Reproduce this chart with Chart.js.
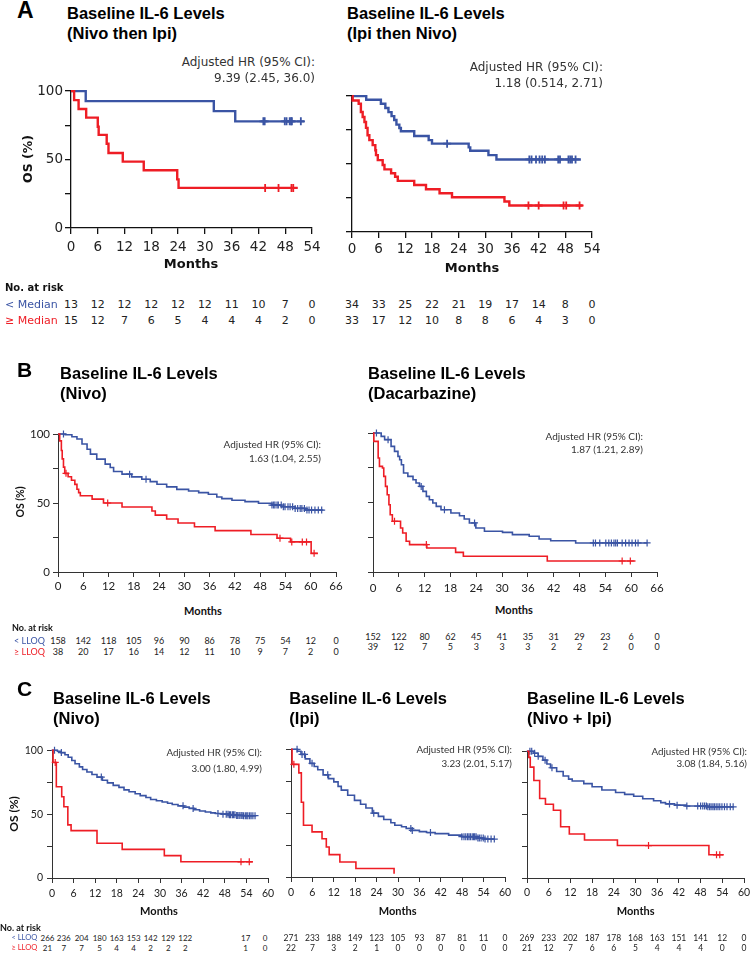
<!DOCTYPE html>
<html><head><meta charset="utf-8">
<script src="https://cdn.jsdelivr.net/npm/chart.js"></script>
<style>
html,body{margin:0;padding:0;width:750px;height:953px;overflow:hidden;background:#fff;position:relative}
.t{position:absolute;white-space:nowrap;}
canvas{position:absolute}
</style></head><body>
<script>
// ---------- tick labels ----------
const monthsA = [0,6,12,18,24,30,36,42,48,54];
const monthsB = [0,6,12,18,24,30,36,42,48,54,60,66];
const monthsC = [0,6,12,18,24,30,36,42,48,54,60];
const yTickVals = [0,25,50,75,100];
const yTickLbls = ['0','','50','','100'];

// ---------- Panel A left (Nivo then Ipi) ----------
const aL_blue_t = [0,3.3,32.0,36.8,52.3];
const aL_blue_s = [100,92.7,85.4,77.9,77.9];
const aL_blue_c = [43.1,43.4,47.9,48.3,49.0,49.3,49.5,51.5];
const aL_red_t = [0,0.7,1.7,3.4,6.0,6.2,8.0,8.4,11.6,16.3,23.8,24.1,50.8];
const aL_red_s = [100,93.4,86.9,80.6,74.0,68.0,61.5,54.8,48.5,42.2,35.5,29.3,29.3];
const aL_red_c = [43.5,46.5,49.4,49.8];
const aL_riskLow = [13,12,12,12,12,12,11,10,7,0];
const aL_riskHigh = [15,12,7,6,5,4,4,4,2,0];

// ---------- Panel A right (Ipi then Nivo) ----------
const aR_blue_t = [0,3.2,6.5,7.5,8.2,8.9,9.5,10.0,10.65,11.0,14.0,17.25,18.0,26.25,26.6,30.7,32.5,51.5];
const aR_blue_s = [100,97.3,94.4,91.2,88.2,85.3,82.4,79.0,76.5,74.1,70.6,67.6,65.0,62.3,59.8,56.6,53.4,53.4];
const aR_blue_c = [21.4,39.9,40.4,41.4,42.2,42.8,43.4,46.4,46.8,48.7,49.1,49.5,50.3];
const aR_red_t = [0,0.15,1.5,2.0,2.4,2.8,3.15,3.5,3.9,4.65,5.25,5.4,5.8,6.9,7.3,8.8,9.7,10.3,14.0,16.65,19.7,22.5,34.3,35.4,51.9];
const aR_red_s = [100,96.8,94.4,88.3,84.6,80.9,76.6,71.2,67.6,63.9,60.2,56.6,52.9,49.3,46.1,43.2,40.7,37.6,34.6,31.5,28.5,25.6,22.4,19.5,19.5];
const aR_red_c = [39.7,42.0,47.6,48.2,51.2];
const aR_riskLow = [34,33,25,22,21,19,17,14,8,0];
const aR_riskHigh = [33,17,12,10,8,8,6,4,3,0];

// ---------- Panel B left (Nivo) ----------
const bL_blue_t = [0,1.7,3.3,4.5,5.7,6.9,7.7,9.2,11.2,12.4,13.2,15.2,17.5,19.9,21.9,23.5,25.8,28.2,31.0,33.4,35.7,37.7,38.9,41.3,44.4,47.6,50.8,53.1,56.3,58.7,63.0];
const bL_blue_s = [100,99.5,98.0,96.4,92.7,89.0,85.4,81.8,78.2,75.7,72.8,70.9,68.9,67.2,65.5,63.6,61.7,59.9,58.7,57.5,56.3,54.4,53.2,52.0,51.0,49.8,48.5,47.3,46.1,44.9,44.9];
const bL_blue_c = [1.3,17.0,20.9,50.8,51.2,51.5,52.0,52.3,53.0,53.5,53.9,54.6,55.1,55.7,56.3,56.9,57.5,57.9,58.5,59.1,59.6,60.2,61.0,61.8,62.6];
const bL_red_t = [0,0.4,0.8,1.0,1.3,1.6,2.4,3.2,4.0,4.5,4.9,5.3,8.1,10.8,15.2,22.3,23.1,25.8,28.5,32.4,37.3,45.8,52.0,55.2,60.1,61.7];
const bL_red_s = [100,95,88,82,76,71.5,69,66.5,63.5,60,57.5,55.2,52.8,50,47.1,44.2,41.2,38.4,35.5,32.8,30.0,27.2,24.5,21.8,13.5,13.5];
const bL_red_c = [1.9,11.8,52.7,55.5,58.0,59.0,60.8];
const bL_riskLow = [158,142,118,105,96,90,86,78,75,54,12,0];
const bL_riskHigh = [38,20,17,16,14,12,11,10,9,7,2,0];

// ---------- Panel B right (Dacarbazine) ----------
const bR_blue_t = [0,1.9,2.7,4.2,5.0,5.8,6.2,6.6,7.1,8.1,9.3,10.0,10.8,11.6,12.4,13.1,13.9,14.7,15.8,18.1,20.1,21.2,22.4,23.9,25.9,30.1,32.4,36.3,38.6,41.3,47.1,63.7];
const bR_blue_s = [100,97.6,95.2,90.4,86.8,83.2,80.8,77.2,71.2,68.8,66.4,64.0,61.6,58.0,54.4,52.0,49.6,47.2,44.8,42.4,40.5,38.1,35.3,31.7,29.3,28.5,26.9,25.7,23.7,22.5,20.9,20.9];
const bR_blue_c = [0.8,3.5,11.2,16.6,23.6,51.2,51.7,52.7,54.1,54.8,55.4,56.0,56.4,56.8,57.9,58.7,59.5,60.2,61.0,61.6,63.7];
const bR_red_t = [0,0.2,1.2,1.5,2.2,2.5,2.9,3.3,3.7,4.0,4.5,6.4,6.9,7.7,8.5,12.5,19.2,21.0,40.5,61.0];
const bR_red_s = [100,94.0,82.0,76.0,74.8,68.8,61.6,55.6,48.4,41.2,36.5,31.7,28.1,22.1,19.7,17.3,14.1,11.3,7.9,7.9];
const bR_red_c = [5.0,12.4,57.9,59.8];
const bR_riskLow = [152,122,80,62,45,41,35,31,29,23,6,0];
const bR_riskHigh = [39,12,7,5,3,3,3,2,2,2,0,0];

// ---------- Panel C left (Nivo) ----------
const cL_blue_t = [0,1.5,2.5,3.6,4.5,5.5,6.4,7.6,8.5,9.7,11.1,12.5,14.0,15.4,17.0,18.6,20.0,21.4,23.1,24.5,26.1,27.4,29.0,30.6,32.1,33.4,35.0,36.6,38.1,39.4,41.0,42.6,44.1,45.4,47.1,49.0,51.0,53.1,56.7];
const cL_blue_s = [100,99.3,98.2,96.5,94.5,92.0,89.5,87.0,85.0,83.0,81.0,79.0,76.5,74.5,72.5,71.0,69.0,67.5,66.0,64.5,63.0,61.5,60.5,59.5,58.5,57.5,56.5,55.5,54.5,53.5,52.5,51.7,51.0,50.5,50.0,49.5,49.0,48.8,48.8];
const cL_blue_c = [0.7,2.6,13.7,36.4,39.2,46.1,47.5,48.4,48.9,49.3,49.6,50.1,50.4,50.8,51.3,51.6,52.0,52.5,52.8,53.2,53.7,54.1,54.4,54.9,55.3,55.8,56.4];
const cL_red_t = [0,0.3,1.2,2.7,3.3,4.4,5.3,12.5,19.5,31.2,35.8,55.8];
const cL_red_s = [100,90.5,71.4,63.6,55.8,41.6,37.1,27.2,22.4,17.5,12.7,12.7];
const cL_red_c = [0.9,52.5,54.8];
const cL_riskLow = [266,236,204,180,163,153,142,129,122,17,0];
const cL_riskHigh = [21,7,7,5,4,4,2,2,2,1,0];

// ---------- Panel C middle (Ipi) ----------
const cM_blue_t = [0,1.8,2.8,4.0,5.3,6.5,7.5,9.0,10.5,12.0,13.2,14.1,15.9,17.8,19.5,21.0,22.8,24.5,26.0,28.0,29.1,31.0,32.3,34.0,36.0,38.0,40.4,44.2,47.9,52.0,54.0,57.0];
const cM_blue_s = [100,98.5,96,92.5,89,86.5,84,80,77,74.5,71,68,64,60,57,54,50,47.5,45,42.5,40.5,39.3,38,36.5,35.5,34.8,34,32.8,31.6,30.5,29.7,29.7];
const cM_blue_c = [1.7,3.1,3.8,5.9,10.3,23.2,33.6,34.0,39.1,47.9,48.5,49.0,49.5,49.9,50.3,50.8,51.2,51.5,51.9,52.4,52.8,53.3,53.9,54.4,55.2,56.1,57.0];
const cM_red_t = [0,0.3,2.2,2.9,3.5,5.9,8.7,9.9,10.7,13.7,18.2,28.9];
const cM_red_s = [100,88.2,81.5,58.5,40.5,35.3,30.0,23.5,17.5,11.8,6.6,2.5];
const cM_red_c = [0.8];
const cM_riskLow = [271,233,188,149,123,105,93,87,81,11,0];
const cM_riskHigh = [22,7,3,2,1,0,0,0,0,0,0];

// ---------- Panel C right (Nivo + Ipi) ----------
const cR_blue_t = [0,1.9,3.1,4.4,5.5,6.5,8.2,10.0,11.5,12.5,15.7,18.0,20.7,24.5,27.0,29.5,32.0,35.0,37.0,38.3,40.8,44.0,50.0,57.1];
const cR_blue_s = [100,98.5,96,93,90,87,84,80.5,78,76.5,74.5,72,69.5,67.5,66,64.5,62.5,61,59.5,58.5,57.5,56.8,56.2,56.2];
const cR_blue_c = [0.8,1.3,2.1,3.1,5.0,6.9,39.4,41.5,44.2,47.2,48.0,48.6,49.1,49.6,50.0,50.5,50.9,51.4,51.8,52.3,52.8,53.3,53.9,54.6,55.3,56.2,57.0];
const cR_red_t = [0,0.5,0.9,1.9,3.5,5.1,7.3,9.3,11.7,15.9,25.0,50.3,54.4];
const cR_red_s = [100,95.2,87.5,77,62.7,58.2,53.5,40.5,34.7,30,25.6,18.3,18.3];
const cR_red_c = [33.6,52.4,53.3];
const cR_riskLow = [269,233,202,187,178,168,163,151,141,12,0];
const cR_riskHigh = [21,12,7,6,6,5,4,4,4,0,0];

// ---------- layout / style ----------
const BLUE = '#3A54A4', RED = '#EE1D25', INK = '#1a1a1a';
const cLeftRiskX = [47.5,63.8,81.7,99.7,116.7,133.7,150.7,168.3,185.3,245.7,265];

function T(s, x, y, font, color, align, rot) {
  const d = document.createElement('div');
  d.className = 't'; d.textContent = s;
  d.style.font = font; d.style.lineHeight = '1';
  d.style.color = color || INK;
  d.style.left = x + 'px'; d.style.top = y + 'px';
  const tx = align === 'c' ? '-50%' : align === 'r' ? '-100%' : '0';
  d.style.transform = 'translate(' + tx + ',-50%)' + (rot ? ' rotate(' + rot + 'deg)' : '');
  document.body.appendChild(d);
}
function stepAt(t, s, x) { let v = s[0]; for (let i = 0; i < t.length; i++) if (t[i] <= x) v = s[i]; return v; }

function km(p) {
  const PT = 10, PR = 14, XH = 30;
  const {l, r, t, b} = p.box;
  const W = r - l + p.yw + PR, H = b - t + PT + XH;
  const c = document.createElement('canvas');
  c.width = W; c.height = H;
  c.style.left = (l - p.yw) + 'px'; c.style.top = (t - PT) + 'px';
  c.style.width = W + 'px'; c.style.height = H + 'px';
  document.body.appendChild(c);
  const ds = [];
  [[p.red, RED], [p.blue, BLUE]].forEach(([cv, col]) => {
    const [tt, ss, cc] = cv;
    ds.push({data: tt.map((x, i) => ({x: x, y: ss[i]})), stepped: true, borderColor: col,
      borderWidth: p.lw, pointRadius: 0, fill: false, tension: 0, clip: false,
      borderJoinStyle: 'miter', borderCapStyle: 'butt'});
    ds.push({data: cc.map(x => ({x: x, y: stepAt(tt, ss, x)})), showLine: false,
      pointStyle: 'cross', pointRadius: p.pr, pointBorderColor: col, pointBorderWidth: p.pw,
      pointBackgroundColor: col, clip: false});
  });
  const tickFont = {family: p.font, size: p.fsize};
  const chart = new Chart(c, {
    type: 'line',
    data: {datasets: ds},
    options: {
      responsive: false, animation: false, events: [],
      layout: {padding: {left: 0, top: PT, right: PR, bottom: 0}},
      plugins: {legend: {display: false}, tooltip: {enabled: false}},
      scales: {
        x: {type: 'linear', min: 0, max: p.months[p.months.length - 1],
          afterFit: s => { s.height = XH; },
          afterBuildTicks: s => { s.ticks = p.months.map(v => ({value: v})); },
          ticks: {autoSkip: false, maxRotation: 0, padding: p.xpad, font: tickFont, color: '#222',
            callback: (v, i) => String(p.months[i])},
          grid: {drawOnChartArea: false, drawTicks: true, tickLength: p.tl, color: p.axc, lineWidth: p.axw},
          border: {display: true, color: p.axc, width: p.axw}},
        y: {type: 'linear', min: 0, max: 100,
          afterFit: s => { s.width = p.yw; },
          afterBuildTicks: s => { s.ticks = yTickVals.map(v => ({value: v})); },
          ticks: {autoSkip: false, padding: p.ypad, font: tickFont, color: '#222',
            callback: (v, i) => p.yLab ? yTickLbls[i] : ''},
          grid: {drawOnChartArea: false, drawTicks: true, tickLength: p.tl, color: p.axc, lineWidth: p.axw},
          border: {display: true, color: p.axc, width: p.axw}}
      }
    }
  });
  const off = l - p.yw;
  const xs = p.riskX || p.months.map(m => off + chart.scales.x.getPixelForValue(m));
  p.risk[0].forEach((v, i) => T(String(v), xs[i], p.riskY[0], p.riskFont, '#222', 'c'));
  p.risk[1].forEach((v, i) => T(String(v), xs[i], p.riskY[1], p.riskFont, '#222', 'c'));
  return chart;
}

const styleA = {font: 'DejaVu Sans', fsize: 13.5, tl: 6, lw: 2.4, pr: 4, pw: 1.8, axw: 1.3, axc: '#111', riskFont: '11px "DejaVu Sans"'};
const styleB = {font: 'Lato', fsize: 11.5, tl: 5, lw: 1.6, pr: 3.5, pw: 1.2, axw: 1, axc: '#333', riskFont: '9px Lato'};
const styleC = {font: 'Lato', fsize: 10.5, tl: 5, lw: 1.6, pr: 3.5, pw: 1.2, axw: 1, axc: '#333', riskFont: '8.5px Lato'};

km(Object.assign({}, styleA, {box: {l: 71, r: 312, t: 91, b: 228}, months: monthsA, yLab: true, yw: 42, xpad: 5, ypad: 2,
  blue: [aL_blue_t, aL_blue_s, aL_blue_c], red: [aL_red_t, aL_red_s, aL_red_c], risk: [aL_riskLow, aL_riskHigh], riskY: [304, 320]}));
km(Object.assign({}, styleA, {box: {l: 352, r: 592, t: 96, b: 232}, months: monthsA, yLab: false, yw: 12, xpad: 3.5, ypad: 2,
  blue: [aR_blue_t, aR_blue_s, aR_blue_c], red: [aR_red_t, aR_red_s, aR_red_c], risk: [aR_riskLow, aR_riskHigh], riskY: [304, 320]}));
km(Object.assign({}, styleB, {box: {l: 58, r: 336, t: 434, b: 572}, months: monthsB, yLab: true, yw: 40, xpad: 2.8, ypad: 3,
  blue: [bL_blue_t, bL_blue_s, bL_blue_c], red: [bL_red_t, bL_red_s, bL_red_c], risk: [bL_riskLow, bL_riskHigh], riskY: [640, 651]}));
km(Object.assign({}, styleB, {box: {l: 373, r: 657, t: 433, b: 572}, months: monthsB, yLab: false, yw: 12, xpad: 4, ypad: 3,
  blue: [bR_blue_t, bR_blue_s, bR_blue_c], red: [bR_red_t, bR_red_s, bR_red_c], risk: [bR_riskLow, bR_riskHigh], riskY: [635.7, 646]}));
km(Object.assign({}, styleC, {box: {l: 52, r: 268, t: 750, b: 878}, months: monthsC, yLab: true, yw: 40, xpad: 4, ypad: 4,
  blue: [cL_blue_t, cL_blue_s, cL_blue_c], red: [cL_red_t, cL_red_s, cL_red_c], risk: [cL_riskLow, cL_riskHigh], riskY: [937.7, 947.7], riskX: cLeftRiskX, riskFont: '8px Lato'}));
km(Object.assign({}, styleC, {box: {l: 291, r: 505, t: 749, b: 877}, months: monthsC, yLab: false, yw: 12, xpad: 4.7, ypad: 4,
  blue: [cM_blue_t, cM_blue_s, cM_blue_c], red: [cM_red_t, cM_red_s, cM_red_c], risk: [cM_riskLow, cM_riskHigh], riskY: [937.7, 947.7]}));
km(Object.assign({}, styleC, {box: {l: 527, r: 744, t: 751, b: 878}, months: monthsC, yLab: false, yw: 12, xpad: 3.7, ypad: 4,
  blue: [cR_blue_t, cR_blue_s, cR_blue_c], red: [cR_red_t, cR_red_s, cR_red_c], risk: [cR_riskLow, cR_riskHigh], riskY: [937.7, 947.7]}));

// ---------- text ----------
const TF = 'bold 16.5px "Liberation Sans"';
const HRA = '12px "DejaVu Sans"', HRB = '10px Lato', HRC = '9.8px Lato';
// Panel A
T('A', 17, 10, 'bold 23px "Liberation Sans"', '#000');
T('Baseline IL-6 Levels', 67, 13, TF, '#000'); T('(Nivo then Ipi)', 67, 33, TF, '#000');
T('Baseline IL-6 Levels', 347, 13, TF, '#000'); T('(Ipi then Nivo)', 347, 33, TF, '#000');
T('Adjusted HR (95% CI):', 315, 62, HRA, '#333', 'r'); T('9.39 (2.45, 36.0)', 315, 78, HRA, '#333', 'r');
T('Adjusted HR (95% CI):', 603, 67, HRA, '#333', 'r'); T('1.18 (0.514, 2.71)', 603, 83, HRA, '#333', 'r');
T('OS (%)', 28, 159, 'bold 12.5px "DejaVu Sans"', '#111', 'c', -90);
T('Months', 191, 263, 'bold 13px "DejaVu Sans"', '#111', 'c');
T('Months', 472, 267, 'bold 13px "DejaVu Sans"', '#111', 'c');
T('No. at risk', 5, 288, 'bold 10px "DejaVu Sans"', '#111');
T('< Median', 5, 304, '11px "DejaVu Sans"', BLUE);
T('\u2265 Median', 5, 320, '11px "DejaVu Sans"', RED);
// Panel B
T('B', 17, 369, 'bold 21px "Liberation Sans"', '#000');
T('Baseline IL-6 Levels', 60, 373, TF, '#000'); T('(Nivo)', 60, 393, TF, '#000');
T('Baseline IL-6 Levels', 368, 373, TF, '#000'); T('(Dacarbazine)', 368, 393, TF, '#000');
T('Adjusted HR (95% CI):', 321, 444, HRB, '#333', 'r'); T('1.63 (1.04, 2.55)', 321, 457.7, HRB, '#333', 'r');
T('Adjusted HR (95% CI):', 643, 436, HRB, '#333', 'r'); T('1.87 (1.21, 2.89)', 643, 449.3, HRB, '#333', 'r');
T('OS (%)', 20, 502, 'bold 10.5px Lato', '#111', 'c', -90);
T('Months', 203, 610, 'bold 11px Lato', '#111', 'c');
T('Months', 514, 609, 'bold 11px Lato', '#111', 'c');
T('No. at risk', 12, 626.7, 'bold 9px Lato', '#111');
T('< LLOQ', 14, 640, '9px Lato', BLUE);
T('\u2265 LLOQ', 14, 651, '9px Lato', RED);
// Panel C
T('C', 17, 688, 'bold 21px "Liberation Sans"', '#000');
T('Baseline IL-6 Levels', 53, 698.3, TF, '#000'); T('(Nivo)', 53, 718.3, TF, '#000');
T('Baseline IL-6 Levels', 289.3, 698.3, TF, '#000'); T('(Ipi)', 289.3, 718.3, TF, '#000');
T('Baseline IL-6 Levels', 527, 698.3, TF, '#000'); T('(Nivo + Ipi)', 527, 718.3, TF, '#000');
T('Adjusted HR (95% CI):', 262, 753, HRC, '#333', 'r'); T('3.00 (1.80, 4.99)', 262, 769, HRC, '#333', 'r');
T('Adjusted HR (95% CI):', 512, 750, HRC, '#333', 'r'); T('3.23 (2.01, 5.17)', 512, 764, HRC, '#333', 'r');
T('Adjusted HR (95% CI):', 747, 751.5, HRC, '#333', 'r'); T('3.08 (1.84, 5.16)', 747, 764, HRC, '#333', 'r');
T('OS (%)', 14, 814, 'bold 12px Lato', '#111', 'c', -90);
T('Months', 159, 910, 'bold 11px Lato', '#111', 'c');
T('Months', 397.7, 910, 'bold 11px Lato', '#111', 'c');
T('Months', 635.7, 910, 'bold 11px Lato', '#111', 'c');
T('No. at risk', 0, 927.3, 'bold 9px Lato', '#111');
T('< LLOQ', 11.5, 937.7, '7.5px Lato', BLUE);
T('\u2265 LLOQ', 11.5, 947.7, '7.5px Lato', RED);
</script>
</body></html>
